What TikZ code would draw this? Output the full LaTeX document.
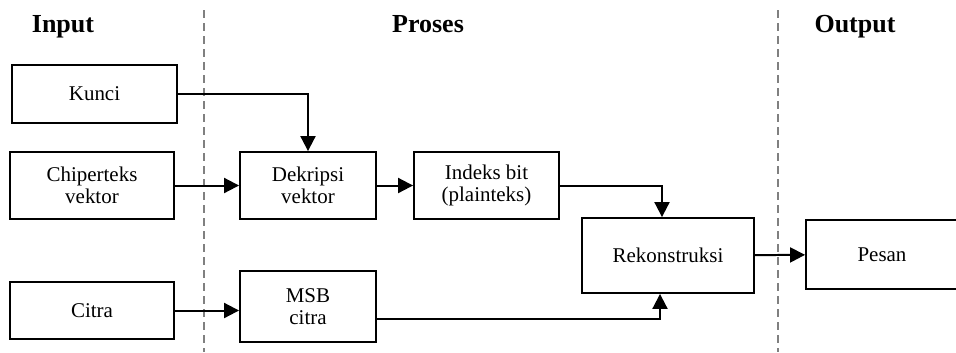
\documentclass[tikz,border=0pt]{standalone}
\usepackage{fontspec}
\setmainfont{Liberation Serif}
\usetikzlibrary{arrows.meta,positioning}

\begin{document}
\begin{tikzpicture}[
    x=0.03cm, y=-0.03cm,
    box/.style={draw, line width=1.6pt, inner sep=0pt, align=center,
                font=\fontsize{17.9}{18.8}\selectfont},
    head/.style={anchor=base, font=\fontsize{22.2}{24}\selectfont\bfseries},
    arr/.style={-{Triangle[length=0.45cm,width=0.45cm]}, line width=1.7pt},
    sep/.style={dashed, dash pattern=on 0.24cm off 0.15cm, gray, line width=1.2pt}
]
    \useasboundingbox (0,0) rectangle (956,352);

    % judul kolom
    \node[head] (hin) at (63,32) {Input};
    \node[head] (hpr) at (428,32) {Proses};
    \node[head] (hout) at (855,32) {Output};

    % garis pemisah
    \coordinate (s1a) at (204,10);
    \coordinate (s1b) at (204,352);
    \coordinate (s2a) at (778,10);
    \coordinate (s2b) at (778,352);
    \draw[sep] (s1a) -- (s1b);
    \draw[sep] (s2a) -- (s2b);

    % input
    \node[box, minimum width=4.95cm, minimum height=1.74cm] (kunci) at (94.5,94) {Kunci};
    \node[box, minimum width=4.92cm, minimum height=2.01cm] (chip) at (92,185.5) {Chiperteks\\vektor};
    \node[box, minimum width=4.92cm, minimum height=1.71cm] (citra) at (92,310.5) {Citra};

    % proses
    \node[box, minimum width=4.08cm, minimum height=2.01cm] (dek) at (308,185.5) {Dekripsi\\vektor};
    \node[box, minimum width=4.08cm, minimum height=2.13cm] (msb) at (308,306.5) {MSB\\citra};
    \node[box, minimum width=4.35cm, minimum height=2.01cm] (ind) at (486.5,185.5) {Indeks bit\\(plainteks)};
    \node[box, minimum width=5.16cm, minimum height=2.25cm] (rek) at (668,255.5) {Rekonstruksi};

    % output
    \node[box, minimum width=4.56cm, minimum height=2.07cm] (pesan) at (882,254.5) {Pesan};

    % panah
    \draw[arr] (kunci.east) -| (dek.north);
    \draw[arr] (chip) -- (dek);
    \draw[arr] (dek) -- (ind);
    \draw[arr] (citra.east) -- (citra.east -| msb.west);
    \draw[arr] (ind.east) -| ([xshift=-0.18cm]rek.north);
    \draw[arr] ([yshift=-0.36cm]msb.east) -| ([xshift=-0.24cm]rek.south);
    \draw[arr] (rek) -- (pesan);
\end{tikzpicture}
\end{document}
